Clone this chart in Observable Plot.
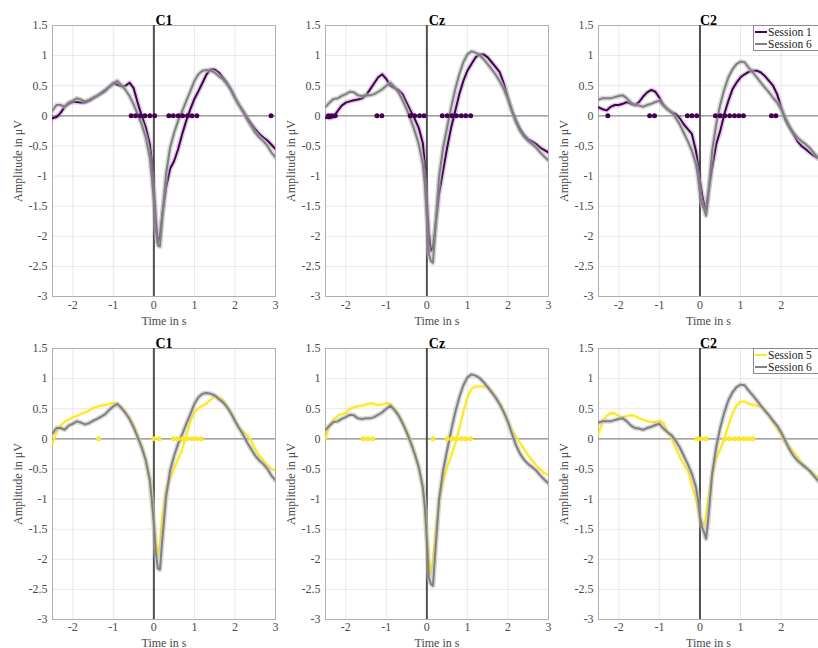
<!DOCTYPE html>
<html><head><meta charset="utf-8">
<script src="https://cdn.jsdelivr.net/npm/d3@7"></script>
<script src="https://cdn.jsdelivr.net/npm/@observablehq/plot@0.6"></script>
<style>
body{margin:0;background:#fff;overflow:hidden}
#fig{position:relative;width:818px;height:648px;overflow:hidden;background:#fff}
.panel{position:absolute}
.panel text{font-family:"Liberation Serif",serif !important}
.legend{position:absolute;background:#fff;border:1px solid #8a8a8a;font-family:"Liberation Serif",serif;font-size:11.5px;line-height:12px;color:#222;padding:0 0 0 1px;white-space:nowrap;box-sizing:border-box;height:26px}
.legend div{display:flex;align-items:center;height:12px}
.legend span.sw{display:inline-block;width:12px;height:0;border-top:2.5px solid;margin-right:1px}
</style></head><body><div id="fig"></div>
<script>
// ---- data ----
const time = [-2.5,-2.4,-2.3,-2.2,-2.1,-2.0,-1.9,-1.8,-1.7,-1.6,-1.5,-1.4,-1.3,-1.2,-1.1,-1.0,-0.9,-0.8,-0.7,-0.6,-0.5,-0.4,-0.3,-0.2,-0.1,-0.05,0,0.05,0.1,0.15,0.2,0.3,0.4,0.5,0.6,0.7,0.8,0.9,1.0,1.1,1.2,1.3,1.4,1.5,1.6,1.7,1.8,1.9,2.0,2.1,2.2,2.3,2.4,2.5,2.6,2.7,2.8,2.9,3.0];
const channels = ["C1", "Cz", "C2"];
const sessionNames = ["Session 1", "Session 5", "Session 6"];
const xTicks = [-2, -1, 0, 1, 2, 3];
const yTicks = [-3, -2.5, -2, -1.5, -1, -0.5, 0, 0.5, 1, 1.5];

// Session 1
const c1_s1 = [-0.04,-0.02,0.05,0.15,0.2,0.23,0.23,0.22,0.22,0.25,0.29,0.33,0.38,0.43,0.48,0.54,0.52,0.49,0.5,0.55,0.46,0.22,0.0,-0.19,-0.47,-0.75,-1.19,-1.74,-2.1,-1.99,-1.69,-1.19,-0.88,-0.75,-0.55,-0.3,-0.08,0.11,0.28,0.41,0.55,0.69,0.77,0.77,0.72,0.64,0.55,0.44,0.3,0.18,0.08,-0.03,-0.13,-0.22,-0.3,-0.36,-0.41,-0.48,-0.55];
const cz_s1 = [-0.03,-0.04,-0.02,0.08,0.17,0.22,0.24,0.26,0.27,0.29,0.34,0.44,0.54,0.64,0.69,0.61,0.5,0.46,0.43,0.36,0.22,0.08,-0.05,-0.2,-0.45,-0.8,-1.41,-1.96,-2.24,-2.19,-1.91,-1.3,-0.91,-0.53,-0.19,0.08,0.36,0.58,0.75,0.86,0.97,1.02,1.02,0.97,0.89,0.81,0.72,0.53,0.3,0.08,-0.08,-0.22,-0.32,-0.39,-0.43,-0.47,-0.53,-0.57,-0.61];
const c2_s1 = [0.14,0.11,0.09,0.15,0.18,0.18,0.2,0.23,0.2,0.18,0.23,0.32,0.39,0.43,0.4,0.3,0.18,0.11,0.06,0.03,-0.04,-0.14,-0.22,-0.3,-0.58,-0.8,-1.08,-1.3,-1.47,-1.55,-1.3,-0.86,-0.47,-0.25,0.03,0.25,0.44,0.55,0.64,0.69,0.73,0.75,0.75,0.72,0.66,0.58,0.5,0.36,0.14,-0.06,-0.19,-0.3,-0.42,-0.5,-0.55,-0.61,-0.66,-0.7,-0.74];
// Session 5
const c1_s5 = [-0.08,0.11,0.22,0.28,0.32,0.36,0.38,0.41,0.44,0.47,0.51,0.53,0.55,0.56,0.58,0.6,0.58,0.53,0.43,0.34,0.22,0.06,-0.14,-0.33,-0.66,-0.95,-1.38,-1.77,-1.94,-1.72,-1.33,-0.83,-0.66,-0.5,-0.33,-0.17,0.06,0.28,0.44,0.51,0.55,0.59,0.65,0.71,0.7,0.65,0.55,0.43,0.29,0.19,0.12,0.06,-0.03,-0.17,-0.28,-0.36,-0.44,-0.5,-0.53];
const cz_s5 = [0.0,0.22,0.32,0.38,0.41,0.43,0.5,0.52,0.54,0.55,0.57,0.59,0.58,0.56,0.57,0.59,0.58,0.5,0.4,0.28,0.14,-0.03,-0.25,-0.47,-0.83,-1.1,-1.55,-1.99,-2.24,-1.99,-1.66,-1.05,-0.72,-0.47,-0.28,-0.08,0.17,0.44,0.69,0.83,0.87,0.87,0.87,0.86,0.79,0.69,0.58,0.44,0.28,0.14,0.03,-0.07,-0.17,-0.28,-0.36,-0.44,-0.51,-0.57,-0.6];
const c2_s5 = [0.08,0.28,0.38,0.43,0.42,0.38,0.36,0.38,0.39,0.38,0.34,0.32,0.29,0.28,0.28,0.3,0.27,0.12,0.0,-0.14,-0.3,-0.42,-0.53,-0.77,-1.0,-1.15,-1.3,-1.38,-1.44,-1.27,-1.0,-0.61,-0.33,-0.17,0.0,0.22,0.42,0.55,0.62,0.62,0.58,0.57,0.55,0.53,0.47,0.39,0.28,0.17,0.06,-0.06,-0.12,-0.21,-0.3,-0.39,-0.47,-0.53,-0.58,-0.64,-0.68];
// Session 6
const c1_s6 = [0.09,0.18,0.18,0.15,0.22,0.25,0.29,0.27,0.24,0.26,0.3,0.33,0.37,0.41,0.48,0.54,0.58,0.51,0.43,0.33,0.19,0.03,-0.14,-0.36,-0.69,-1.02,-1.41,-1.9,-2.15,-2.17,-1.74,-0.97,-0.53,-0.28,-0.08,0.08,0.25,0.41,0.58,0.69,0.75,0.76,0.75,0.72,0.66,0.61,0.53,0.43,0.3,0.18,0.07,-0.06,-0.17,-0.28,-0.36,-0.42,-0.5,-0.61,-0.69];
const cz_s6 = [0.15,0.22,0.28,0.29,0.33,0.36,0.4,0.39,0.34,0.33,0.34,0.34,0.36,0.4,0.44,0.5,0.55,0.48,0.39,0.26,0.11,-0.06,-0.25,-0.47,-0.8,-1.13,-1.69,-2.3,-2.41,-2.44,-1.96,-1.02,-0.53,-0.19,0.14,0.44,0.69,0.89,1.02,1.07,1.05,1.01,0.94,0.86,0.77,0.68,0.57,0.44,0.28,0.08,-0.11,-0.25,-0.35,-0.42,-0.47,-0.53,-0.61,-0.68,-0.74];
const c2_s6 = [0.27,0.29,0.29,0.29,0.31,0.33,0.34,0.29,0.22,0.18,0.17,0.15,0.18,0.2,0.23,0.25,0.17,0.11,0.06,-0.03,-0.14,-0.28,-0.42,-0.58,-0.8,-1.0,-1.3,-1.47,-1.55,-1.66,-1.36,-0.58,-0.14,0.19,0.44,0.64,0.77,0.86,0.9,0.89,0.8,0.72,0.64,0.55,0.47,0.39,0.3,0.22,0.11,-0.03,-0.17,-0.28,-0.36,-0.42,-0.47,-0.53,-0.61,-0.69,-0.76];

// significant time points (dots on the zero line)
const sig_c1_s1 = [-0.56,-0.45,-0.33,-0.22,-0.1,0.02,0.37,0.48,0.6,0.71,0.83,0.94,1.06,2.89];
const sig_cz_s1 = [-2.43,-2.35,-2.26,-1.23,-1.11,-0.41,-0.3,-0.18,-0.07,0.38,0.5,0.62,0.73,0.85,0.96,1.08];
const sig_c2_s1 = [-2.27,-1.24,-1.12,-0.31,-0.2,-0.08,0.38,0.5,0.61,0.73,0.85,0.96,1.07,1.76,1.87];
const sig_c1_s5 = [-1.36,0.0,0.13,0.48,0.59,0.71,0.82,0.94,1.05,1.17];
const sig_cz_s5 = [-1.57,-1.46,-1.34,0.15,0.5,0.62,0.73,0.85,0.96,1.08];
const sig_c2_s5 = [-0.08,0.03,0.15,0.61,0.73,0.85,0.96,1.08,1.19,1.3];

const colors = {"Session 1": "#440154", "Session 5": "#fde725", "Session 6": "#808080"};

// ---- drawing ----
const fig = document.getElementById("fig");
const fmt = d => String(d);
const rows = vals => time.map((t, i) => ({t, v: vals[i]}));

function panel({title, a, aName, b, sig, left, top, width, xMax, marginRight, labelOffsetX, tickPadX}) {
  const ca = colors[aName], cb = colors["Session 6"];
  const ra = rows(a), rb = rows(b);
  const chart = Plot.plot({
    width, height: 330,
    marginLeft: 52, marginRight, marginTop: 25, marginBottom: 34,
    style: {fontFamily: "'Liberation Serif', serif", fontSize: "12px", color: "#4a4a4a", background: "transparent", overflow: "visible"},
    x: {domain: [-2.5, xMax]},
    y: {domain: [-3, 1.5]},
    marks: [
      Plot.gridX(xTicks.filter(t => t <= xMax), {stroke: "#000", strokeOpacity: 0.09}),
      Plot.gridY(yTicks, {stroke: "#000", strokeOpacity: 0.09}),
      Plot.frame({stroke: "#b0b0b0"}),
      Plot.axisX(xTicks.filter(t => t <= xMax), {tickSize: 0, tickPadding: tickPadX, tickFormat: fmt, fontSize: 12, label: "Time in s", labelAnchor: "center", labelArrow: "none", labelOffset: labelOffsetX}),
      Plot.axisY(yTicks, {tickSize: 0, tickPadding: 5, tickFormat: fmt, fontSize: 12, label: "Amplitude in μV", labelAnchor: "center", labelArrow: "none", labelOffset: 39}),
      Plot.ruleY([0], {stroke: "#8c8c8c", strokeWidth: 1.2}),
      Plot.ruleX([0], {stroke: "#505050", strokeWidth: 2}),
      Plot.lineY(ra, {x: "t", y: "v", stroke: ca, strokeWidth: 5, strokeOpacity: 0.18, clip: true}),
      Plot.lineY(ra, {x: "t", y: "v", stroke: ca, strokeWidth: 2, clip: true}),
      Plot.lineY(rb, {x: "t", y: "v", stroke: "#b8b8b8", strokeWidth: 5, strokeOpacity: 0.55, clip: true}),
      Plot.lineY(rb, {x: "t", y: "v", stroke: cb, strokeWidth: 2, clip: true}),
      Plot.dot(sig, {x: d => d, y: () => 0, r: 2.5, fill: ca, stroke: "none"}),
      Plot.text([title], {frameAnchor: "top", dy: -10, fontWeight: "bold", fontSize: 14, fill: "#000"})
    ]
  });
  chart.classList.add("panel");
  chart.style.left = left + "px";
  chart.style.top = top + "px";
  fig.appendChild(chart);
}

const series = {
  "Session 1": [c1_s1, cz_s1, c2_s1],
  "Session 5": [c1_s5, cz_s5, c2_s5],
  "Session 6": [c1_s6, cz_s6, c2_s6]
};
const sigs = {"Session 1": [sig_c1_s1, sig_cz_s1, sig_c2_s1], "Session 5": [sig_c1_s5, sig_cz_s5, sig_c2_s5]};
const lefts = [0, 273, 546];
const widths = [280, 280, 272];
const xMaxs = [3, 3, 2.92];
const mRights = [5, 5, 0];

[["Session 1", 0, 28, 4], ["Session 5", 323, 27, 3]].forEach(([aName, top, lo, tp]) => {
  channels.forEach((ch, i) => {
    panel({title: ch, a: series[aName][i], aName, b: series["Session 6"][i], sig: sigs[aName][i],
      left: lefts[i], top, width: widths[i], xMax: xMaxs[i], marginRight: mRights[i], labelOffsetX: lo, tickPadX: tp});
  });
  const lg = document.createElement("div");
  lg.className = "legend";
  lg.style.left = "753px";
  lg.style.top = (top + 25) + "px";
  lg.style.width = "70px";
  [aName, "Session 6"].forEach(n => {
    const row = document.createElement("div");
    const sw = document.createElement("span");
    sw.className = "sw";
    sw.style.borderColor = colors[n];
    row.appendChild(sw);
    row.appendChild(document.createTextNode(n));
    lg.appendChild(row);
  });
  fig.appendChild(lg);
});
</script></body></html>
